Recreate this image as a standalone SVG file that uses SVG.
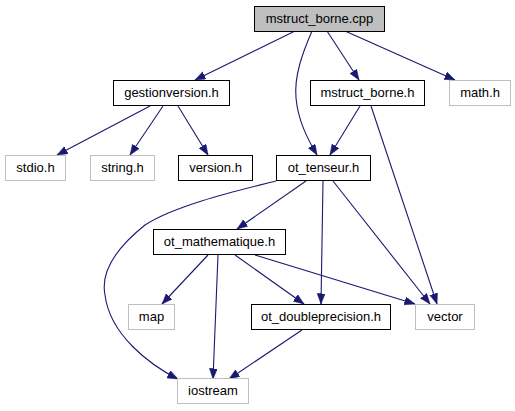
<svg xmlns="http://www.w3.org/2000/svg" width="515" height="411" viewBox="0 0 515 411">
<defs>
<style>
.n rect{fill:#fff;stroke:#000;stroke-width:1}
.n.g rect{stroke:#bfbfbf}
.n.r rect{fill:#bfbfbf}
.n text{font-family:"Liberation Sans",Arial,sans-serif;font-size:13px;fill:#000;text-anchor:middle}
.e path{fill:none;stroke:#191970;stroke-width:1.1}
</style>
<marker id="a" markerWidth="11" markerHeight="9" refX="10.5" refY="4" orient="auto" markerUnits="userSpaceOnUse">
<path d="M0,0 L10.5,4 L0,8 z" fill="#191970" stroke="#191970" stroke-width="0.5"/>
</marker>
</defs>
<rect width="515" height="411" fill="#fff"/>
<g id="edges" class="e">
<path d="M295,31 L195,80" marker-end="url(#a)"/>
<path d="M312,31 C303,52 294,75 296,98 C298,120 307,138 317,155" marker-end="url(#a)"/>
<path d="M327,31 L359,80" marker-end="url(#a)"/>
<path d="M345,31 L455,80" marker-end="url(#a)"/>
<path d="M150,106 L57,155" marker-end="url(#a)"/>
<path d="M163,106 L130,155" marker-end="url(#a)"/>
<path d="M178,106 L208,155" marker-end="url(#a)"/>
<path d="M360,106 L330,155" marker-end="url(#a)"/>
<path d="M371,106 L437,304" marker-end="url(#a)"/>
<path d="M276,181 C240,190 175,205 145,225 C120,245 100,270 105,295 C110,335 150,365 178,379" marker-end="url(#a)"/>
<path d="M306,181 L237,229" marker-end="url(#a)"/>
<path d="M323,181 L321,304" marker-end="url(#a)"/>
<path d="M333,181 L430,304" marker-end="url(#a)"/>
<path d="M208,255 L162,304" marker-end="url(#a)"/>
<path d="M218,255 L213,379" marker-end="url(#a)"/>
<path d="M235,255 L304,304" marker-end="url(#a)"/>
<path d="M255,255 L415,304" marker-end="url(#a)"/>
<path d="M302,330 L229,379" marker-end="url(#a)"/>
</g>
<g id="mstruct_borne_cpp" class="n r"><rect x="254.5" y="6.5" width="130" height="25"/><text x="319.5" y="23">mstruct_borne.cpp</text></g>
<g id="gestionversion_h" class="n"><rect x="113.5" y="80.5" width="116" height="25"/><text x="171.5" y="97">gestionversion.h</text></g>
<g id="mstruct_borne_h" class="n"><rect x="310.5" y="80.5" width="114" height="25"/><text x="367.5" y="97">mstruct_borne.h</text></g>
<g id="math_h" class="n g"><rect x="449.5" y="80.5" width="61" height="25"/><text x="480" y="97">math.h</text></g>
<g id="stdio_h" class="n g"><rect x="5.5" y="155.5" width="60" height="25"/><text x="35.5" y="172">stdio.h</text></g>
<g id="string_h" class="n g"><rect x="90.5" y="155.5" width="64" height="25"/><text x="122.5" y="172">string.h</text></g>
<g id="version_h" class="n"><rect x="178.5" y="155.5" width="74" height="25"/><text x="215.5" y="172">version.h</text></g>
<g id="ot_tenseur_h" class="n"><rect x="276.5" y="155.5" width="94" height="25"/><text x="323.5" y="172">ot_tenseur.h</text></g>
<g id="ot_mathematique_h" class="n"><rect x="153.5" y="229.5" width="132" height="25"/><text x="219.5" y="246">ot_mathematique.h</text></g>
<g id="map" class="n g"><rect x="128.5" y="304.5" width="46" height="25"/><text x="151.5" y="321">map</text></g>
<g id="ot_doubleprecision_h" class="n"><rect x="251.5" y="304.5" width="139" height="25"/><text x="321" y="321">ot_doubleprecision.h</text></g>
<g id="vector" class="n g"><rect x="415.5" y="304.5" width="59" height="25"/><text x="445" y="321">vector</text></g>
<g id="iostream" class="n g"><rect x="177.5" y="378.5" width="71" height="25"/><text x="213" y="395">iostream</text></g>
</svg>
